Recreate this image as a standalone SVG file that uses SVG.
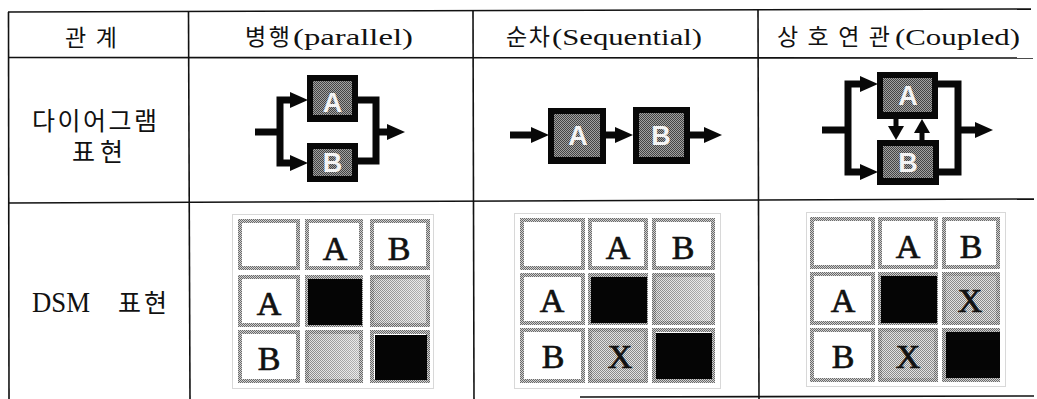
<svg xmlns="http://www.w3.org/2000/svg" width="1037" height="399" viewBox="0 0 1037 399">
  <defs>
    <style>
      .grid { stroke: #111; stroke-width: 1.6; fill: none; }
      .head { font-family: "Liberation Serif", "Noto Sans CJK KR", serif; font-size: 23px; fill: #111; }
      .lbl { font-family: "Liberation Serif", "Noto Sans CJK KR", serif; font-size: 25px; fill: #111; }
      .boxo { fill: #080808; }
      .boxi { fill: url(#ditherDark); }
      .boxt { font-family: "Liberation Sans", Arial, sans-serif; font-weight: bold; font-size: 27px; fill: #f4f4f4; text-anchor: middle; }
      .wire { stroke: #080808; stroke-width: 7; fill: none; stroke-linejoin: miter; }
      .wire-s { stroke: #080808; stroke-width: 5; fill: none; }
      .frame { fill: none; stroke: #b0b0b0; stroke-width: 1; stroke-dasharray: 1 1; }
      .cell { fill: #fff; stroke: url(#ditherMid); stroke-width: 4; }
      .shade { fill: url(#ditherLight); stroke: url(#ditherMid); stroke-width: 4; }
      .fade { fill: url(#fadeRight); }
      .solid { fill: #050505; }
      .dsm { font-family: "Liberation Serif", "Times New Roman", serif; font-size: 34px; fill: #111; stroke: #111; stroke-width: 0.7; text-anchor: middle; }
    </style>
    <pattern id="ditherDark" width="2" height="2" patternUnits="userSpaceOnUse">
      <rect width="2" height="2" fill="#a2a2a2"/>
      <rect width="1" height="1" fill="#444"/>
      <rect x="1" y="1" width="1" height="1" fill="#444"/>
    </pattern>
    <pattern id="ditherMid" width="2" height="2" patternUnits="userSpaceOnUse">
      <rect width="2" height="2" fill="#d0d0d0"/>
      <rect width="1" height="1" fill="#6a6a6a"/>
      <rect x="1" y="1" width="1" height="1" fill="#6a6a6a"/>
    </pattern>
    <pattern id="ditherLight" width="2" height="2" patternUnits="userSpaceOnUse">
      <rect width="2" height="2" fill="#e2e2e2"/>
      <rect width="1" height="1" fill="#8a8a8a"/>
      <rect x="1" y="1" width="1" height="1" fill="#8a8a8a"/>
    </pattern>
    <linearGradient id="fadeRight" x1="0" y1="0" x2="1" y2="0">
      <stop offset="0" stop-color="#fff" stop-opacity="0"/>
      <stop offset="1" stop-color="#fff" stop-opacity="0.35"/>
    </linearGradient>
    <marker id="arrow" markerWidth="18" markerHeight="16" refX="0" refY="8" orient="auto" markerUnits="userSpaceOnUse">
      <path d="M0,0 L18,8 L0,16 z" fill="#080808"/>
    </marker>
    <marker id="arrowSm" markerWidth="14" markerHeight="16" refX="0" refY="8" orient="auto" markerUnits="userSpaceOnUse">
      <path d="M0,0 L14,8 L0,16 z" fill="#080808"/>
    </marker>
  </defs>

  <rect width="1037" height="399" fill="#fff"/>

  <!-- table rules -->
  <g id="table">
    <line class="grid" x1="8" y1="12" x2="1031" y2="9"/>
    <line class="grid" x1="8" y1="57.5" x2="1033" y2="58"/>
    <line class="grid" x1="8" y1="203" x2="1034" y2="199"/>
    <line class="grid" x1="580" y1="397" x2="1034" y2="396"/>
    <line class="grid" x1="8.5" y1="12" x2="9" y2="399"/>
    <line class="grid" x1="188.5" y1="12" x2="190" y2="399"/>
    <line class="grid" x1="473" y1="11" x2="474" y2="399"/>
    <line class="grid" x1="758" y1="10" x2="759" y2="399"/>
  </g>

  <!-- header and row labels -->
  <g id="labels">
    <text class="head" x="65" y="46" textLength="52" lengthAdjust="spacing">관계</text>
    <text class="head" y="45"><tspan x="245" textLength="45" lengthAdjust="spacing">병행</tspan><tspan x="293" textLength="120" lengthAdjust="spacingAndGlyphs">(parallel)</tspan></text>
    <text class="head" y="45"><tspan x="506" textLength="44" lengthAdjust="spacing">순차</tspan><tspan x="552" textLength="150" lengthAdjust="spacingAndGlyphs">(Sequential)</tspan></text>
    <text class="head" y="45"><tspan x="777" textLength="113" lengthAdjust="spacing">상호연관</tspan><tspan x="895" textLength="125" lengthAdjust="spacingAndGlyphs">(Coupled)</tspan></text>
    <text class="lbl" x="32" y="130" textLength="125" lengthAdjust="spacing">다이어그램</text>
    <text class="lbl" x="72" y="161" textLength="51" lengthAdjust="spacing">표현</text>
    <text class="lbl" y="312"><tspan x="32" font-size="29" textLength="58" lengthAdjust="spacingAndGlyphs">DSM</tspan> <tspan x="118" textLength="49" lengthAdjust="spacing">표현</tspan></text>
  </g>

  <!-- connectors -->
  <g id="connectors">
    <!-- parallel -->
    <path class="wire" d="M255,132 H280"/>
    <path class="wire" d="M280,132 V100 H290" marker-end="url(#arrow)"/>
    <path class="wire" d="M280,132 V163 H290" marker-end="url(#arrow)"/>
    <path class="wire" d="M357,100 H376 V161 H357"/>
    <path class="wire" d="M376,132 H387" marker-end="url(#arrow)"/>
    <!-- sequential -->
    <path class="wire" d="M510,135 H531" marker-end="url(#arrow)"/>
    <path class="wire" d="M605,135 H615" marker-end="url(#arrow)"/>
    <path class="wire" d="M689,135 H704" marker-end="url(#arrow)"/>
    <!-- coupled -->
    <path class="wire" d="M822,130 H848"/>
    <path class="wire" d="M848,130 V84 H860" marker-end="url(#arrow)"/>
    <path class="wire" d="M848,130 V172 H860" marker-end="url(#arrow)"/>
    <path class="wire" d="M937,84 H958 V172 H938"/>
    <path class="wire" d="M958,130 H975" marker-end="url(#arrow)"/>
    <path class="wire-s" d="M896,118 V126" marker-end="url(#arrowSm)"/>
    <path class="wire-s" d="M922,141 V133" marker-end="url(#arrowSm)"/>
  </g>

  <!-- diagram blocks -->
  <g id="par-A">
    <rect class="boxo" x="307" y="75" width="51" height="47"/>
    <rect class="boxi" x="313" y="81" width="39" height="34"/>
    <text class="boxt" x="332.5" y="112">A</text>
  </g>
  <g id="par-B">
    <rect class="boxo" x="307" y="143" width="51" height="39"/>
    <rect class="boxi" x="313" y="149" width="39" height="27"/>
    <text class="boxt" x="332.5" y="172">B</text>
  </g>
  <g id="seq-A">
    <rect class="boxo" x="548" y="108" width="58" height="56"/>
    <rect class="boxi" x="554" y="114" width="46" height="43"/>
    <text class="boxt" x="578" y="145">A</text>
  </g>
  <g id="seq-B">
    <rect class="boxo" x="633" y="107" width="57" height="57"/>
    <rect class="boxi" x="639" y="113" width="45" height="44"/>
    <text class="boxt" x="661" y="145">B</text>
  </g>
  <g id="cpl-A">
    <rect class="boxo" x="877" y="72" width="61" height="47"/>
    <rect class="boxi" x="883" y="78" width="49" height="34"/>
    <text class="boxt" x="908" y="105">A</text>
  </g>
  <g id="cpl-B">
    <rect class="boxo" x="877" y="140" width="62" height="45"/>
    <rect class="boxi" x="883" y="146" width="50" height="32"/>
    <text class="boxt" x="908" y="172">B</text>
  </g>

  <!-- DSM: parallel -->
  <g id="dsm-parallel">
    <rect class="frame" x="232.5" y="214.5" width="201" height="174"/>
    <rect class="cell" x="240" y="221" width="58" height="47"/>
    <rect class="cell" x="307" y="221" width="54" height="47"/>
    <rect class="cell" x="372" y="221" width="56" height="47"/>
    <rect class="cell" x="240" y="277" width="58" height="48"/>
    <rect class="cell" x="307" y="277" width="54" height="48"/>
    <rect class="solid" x="308" y="279" width="54" height="46"/>
    <rect class="shade" x="372" y="277" width="56" height="48"/>
    <rect class="fade" x="374" y="279" width="52" height="44"/>
    <rect class="cell" x="240" y="332" width="58" height="49"/>
    <rect class="shade" x="307" y="332" width="54" height="49"/>
    <rect class="fade" x="309" y="334" width="50" height="45"/>
    <rect class="cell" x="372" y="332" width="56" height="49"/>
    <rect class="solid" x="375" y="335" width="52" height="45"/>
    <text class="dsm" x="335" y="260">A</text>
    <text class="dsm" x="399" y="260">B</text>
    <text class="dsm" x="269" y="315">A</text>
    <text class="dsm" x="269" y="370">B</text>
  </g>

  <!-- DSM: sequential -->
  <g id="dsm-sequential">
    <rect class="frame" x="514.5" y="213.5" width="206" height="175"/>
    <rect class="cell" x="522" y="220" width="61" height="48"/>
    <rect class="cell" x="590" y="220" width="56" height="48"/>
    <rect class="cell" x="654" y="220" width="59" height="48"/>
    <rect class="cell" x="522" y="275" width="61" height="48"/>
    <rect class="cell" x="590" y="275" width="56" height="48"/>
    <rect class="solid" x="591" y="277" width="56" height="46"/>
    <rect class="shade" x="654" y="275" width="59" height="48"/>
    <rect class="fade" x="656" y="277" width="55" height="44"/>
    <rect class="cell" x="522" y="330" width="61" height="51"/>
    <rect class="shade" x="590" y="330" width="56" height="51"/>
    <rect class="cell" x="654" y="330" width="59" height="51"/>
    <rect class="solid" x="656" y="333" width="56" height="46"/>
    <text class="dsm" x="618" y="259">A</text>
    <text class="dsm" x="683" y="259">B</text>
    <text class="dsm" x="552" y="312">A</text>
    <text class="dsm" x="553" y="368">B</text>
    <text class="dsm" x="620" y="368">X</text>
  </g>

  <!-- DSM: coupled -->
  <g id="dsm-coupled">
    <rect class="frame" x="806.5" y="212.5" width="199" height="174"/>
    <rect class="cell" x="812" y="219" width="61" height="48"/>
    <rect class="cell" x="880" y="219" width="56" height="48"/>
    <rect class="cell" x="944" y="219" width="54" height="48"/>
    <rect class="cell" x="812" y="274" width="61" height="49"/>
    <rect class="cell" x="880" y="274" width="56" height="49"/>
    <rect class="solid" x="881" y="276" width="56" height="47"/>
    <rect class="shade" x="944" y="274" width="54" height="49"/>
    <rect class="cell" x="812" y="330" width="61" height="50"/>
    <rect class="shade" x="880" y="330" width="56" height="50"/>
    <rect class="cell" x="944" y="330" width="54" height="50"/>
    <rect class="solid" x="946" y="332" width="54" height="46"/>
    <text class="dsm" x="908" y="258">A</text>
    <text class="dsm" x="971" y="258">B</text>
    <text class="dsm" x="843" y="312">A</text>
    <text class="dsm" x="843" y="368">B</text>
    <text class="dsm" x="970" y="312">X</text>
    <text class="dsm" x="908" y="368">X</text>
  </g>
</svg>
